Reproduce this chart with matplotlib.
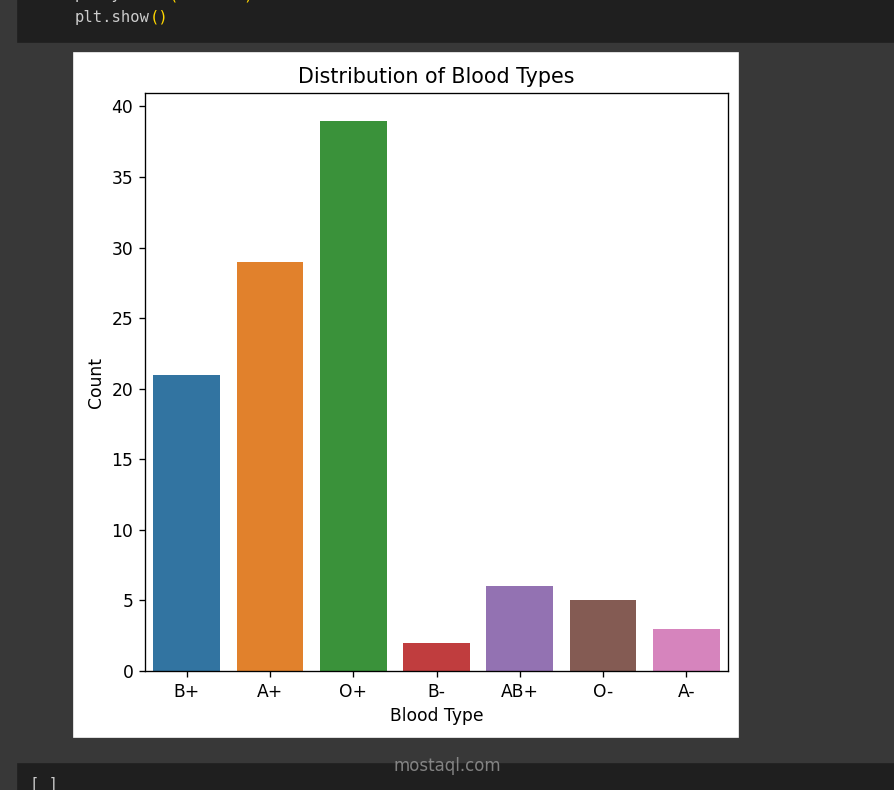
import matplotlib
matplotlib.use("Agg")
import matplotlib.pyplot as plt
from matplotlib.patches import Rectangle

# counts per blood type
blood_types = ["B+", "A+", "O+", "B-", "AB+", "O-", "A-"]
counts = [21, 29, 39, 2, 6, 5, 3]
bar_colors = ["#3274a1", "#e1812c", "#3a923a", "#c03d3e",
              "#9372b2", "#845b53", "#d684bd"]

W, H = 894, 790
DPI = 120
CW = 9.35  # width of one code character, px


def fx(px):
  return px / W


def fy(py):
  return 1 - py / H


def code(fig, col, row_y, s, color="#cccccc"):
  fig.text(fx(75 + col * CW), fy(row_y), s, va="baseline",
           family="DejaVu Sans Mono", fontsize=9.3, color=color)


def main():
  plt.rcParams["font.size"] = 10.3
  fig = plt.figure(figsize=(W / DPI, H / DPI), dpi=DPI, facecolor="#383838")

  # notebook chrome: code cell above, empty cell below, white output area
  for x0, y0, x1, y1, c in [(18, 0, W, 42, "#1f1f1f"),
                            (18, 764, W, H, "#1f1f1f"),
                            (74, 53, 738, 737, "white")]:
    fig.patches.append(Rectangle((fx(x0), fy(y1)), fx(x1) - fx(x0), (y1 - y0) / H,
                                 transform=fig.transFigure, color=c, zorder=-5))

  # previous code line, scrolled mostly out of view
  code(fig, 0, -1, "plt.ylabel")
  code(fig, 10, -1, "(", "#ffd700")
  code(fig, 11, -1, "'Count'", "#ce9178")
  code(fig, 18, -1, ")", "#ffd700")
  code(fig, 0, 22, "plt.show")
  code(fig, 8, 22, "()", "#ffd700")
  fig.text(fx(30), fy(789), "[ ]", va="baseline",
           family="DejaVu Sans Mono", fontsize=9.3, color="#cccccc")

  # watermark
  fig.text(fx(447), fy(771), "mostaql.com", ha="center", va="baseline",
           fontsize=10, color="#9a9a9a", alpha=0.8)

  ax = fig.add_axes([fx(145), fy(671), fx(728) - fx(145), (671 - 93) / H])
  ax.bar(blood_types, counts, width=0.8, color=bar_colors)
  ax.set_xlim(-0.5, len(blood_types) - 0.5)
  ax.set_title("Distribution of Blood Types", fontsize=12.4)
  ax.set_xlabel("Blood Type")
  ax.set_ylabel("Count")

  fig.savefig("out.png", dpi=DPI, facecolor=fig.get_facecolor())


if __name__ == "__main__":
  main()
